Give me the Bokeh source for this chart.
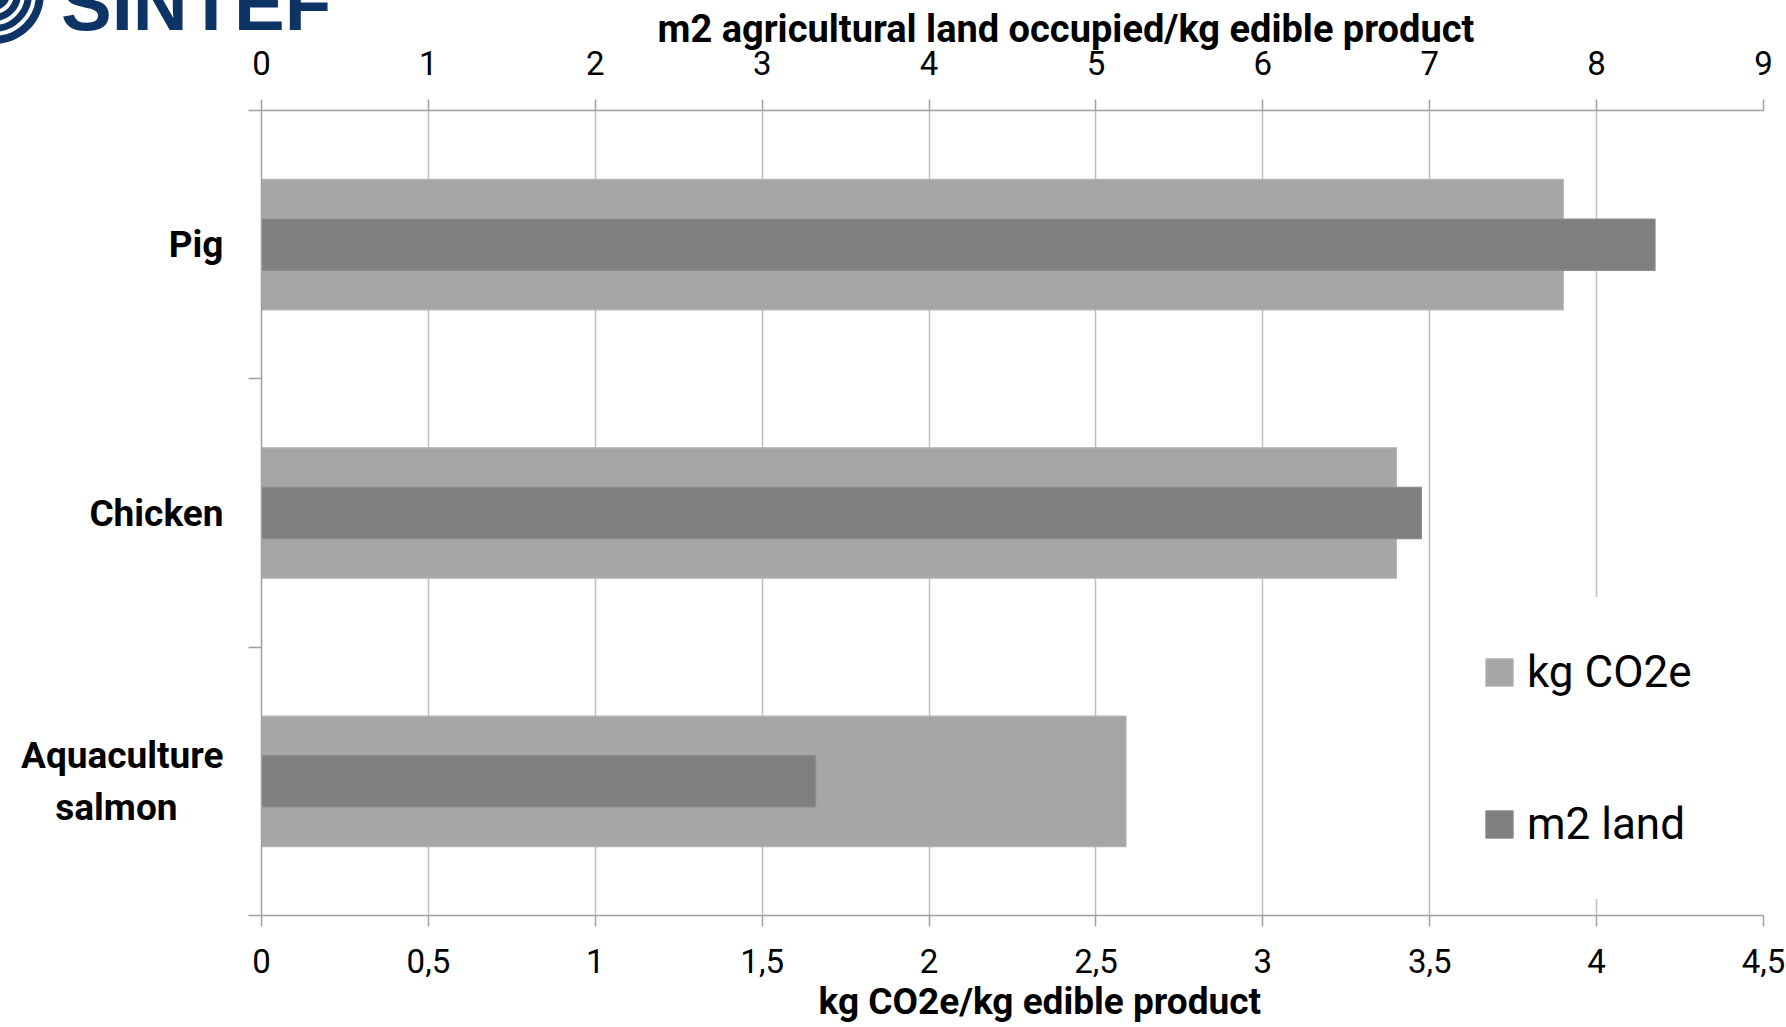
from bokeh.plotting import figure
from bokeh.models import (Range1d, LinearAxis, FixedTicker, Legend, LegendItem,
                          ColumnDataSource, Title, Div)
from bokeh.layouts import column
from bokeh.embed import file_html
from bokeh.resources import INLINE

# ---- data ----
categories = ["Pig", "Chicken", "Aquaculture salmon"]
category_labels = ["Pig", "Chicken", "Aquaculture\nsalmon\u00a0\u00a0\u00a0\u00a0\u00a0"]
co2_values = [3.90, 3.40, 2.59]          # kg CO2e / kg edible product (bottom axis)
land_values = [8.35, 6.95, 3.32]         # m2 land / kg edible product (top axis)
co2_ticks = [0, 0.5, 1, 1.5, 2, 2.5, 3, 3.5, 4, 4.5]
co2_tick_labels = ["0", "0,5", "1", "1,5", "2", "2,5", "3", "3,5", "4", "4,5"]
land_ticks = [0, 1, 2, 3, 4, 5, 6, 7, 8, 9]
land_tick_labels = ["0", "1", "2", "3", "4", "5", "6", "7", "8", "9"]
series_names = ["kg CO2e", "m2 land"]
bottom_title = "kg CO2e/kg edible product"
top_title = "m2 agricultural land occupied/kg edible product"
logo_text = "SINTEF"

# ---- styles ----
FONT = "Roboto"
C_CO2 = "#A6A6A6"
C_LAND = "#7F7F7F"
GRID = "#BFBFBF"
AXIS = "#A0A0A0"
LOGO = "#0E3466"

n = len(categories)
ypos = [n - i - 0.5 for i in range(n)]
src = ColumnDataSource(dict(y=ypos, cat=categories, co2=co2_values, land=land_values))

p = figure(width=1786, height=1027, output_backend="svg", toolbar_location=None,
           x_range=Range1d(co2_ticks[0], co2_ticks[-1]), y_range=Range1d(0, n),
           min_border_left=261, min_border_right=23, min_border_top=110,
           min_border_bottom=110, margin=(0, 0, 0, 0))
p.title = None
p.extra_x_ranges = {"land": Range1d(land_ticks[0], land_ticks[-1])}
p.outline_line_color = None
p.background_fill_color = "white"
p.border_fill_color = "white"

r1 = p.hbar(y="y", left=0, right="co2", height=0.486, source=src,
            fill_color=C_CO2, line_color="#B3B3B3", line_width=1.2)
r2 = p.hbar(y="y", left=0, right="land", height=0.191, source=src,
            x_range_name="land", fill_color=C_LAND, line_color="#8C8C8C", line_width=1.2)

def key(t):
    return int(t) if float(t).is_integer() else t

# bottom axis
xa = p.xaxis[0]
xa.ticker = FixedTicker(ticks=co2_ticks)
xa.major_label_overrides = {key(t): l for t, l in zip(co2_ticks, co2_tick_labels)}

# top axis
ta = LinearAxis(x_range_name="land", ticker=FixedTicker(ticks=land_ticks))
ta.major_label_overrides = {key(t): l for t, l in zip(land_ticks, land_tick_labels)}
p.add_layout(ta, "above")

for ax in (xa, ta):
    ax.axis_line_color = AXIS
    ax.axis_line_width = 1.5
    ax.major_tick_line_color = AXIS
    ax.major_tick_line_width = 1.5
    ax.major_tick_in = 0
    ax.major_tick_out = 11
    ax.minor_tick_line_color = None
    ax.major_label_text_font = FONT
    ax.major_label_text_font_size = "33px"
    ax.major_label_text_color = "black"
xa.major_label_standoff = 22
ta.major_label_standoff = 25

# axis titles as side titles (left aligned with an offset, as in the reference)
t_bottom = Title(text=bottom_title, align="left", offset=557, vertical_align="middle",
                 standoff=7, text_font=FONT, text_font_style="bold",
                 text_font_size="37px", text_color="black")
p.add_layout(t_bottom, "below")
t_top = Title(text=top_title, align="left", offset=396, vertical_align="middle",
              standoff=-8, text_font=FONT, text_font_style="bold",
              text_font_size="38px", text_color="black")
p.add_layout(t_top, "above")

# left (category) axis: labels at band centres, ticks at band boundaries
ya = p.yaxis[0]
ya.ticker = FixedTicker(ticks=ypos, minor_ticks=list(range(n + 1)))
ya.major_label_overrides = {y: l for y, l in zip(ypos, category_labels)}
ya.axis_line_color = AXIS
ya.axis_line_width = 1.5
ya.major_tick_line_color = None
ya.major_tick_out = 0
ya.major_tick_in = 0
ya.minor_tick_line_color = AXIS
ya.minor_tick_line_width = 1.5
ya.minor_tick_out = 13
ya.minor_tick_in = 0
ya.major_label_standoff = 25
ya.major_label_text_font = FONT
ya.major_label_text_font_style = "bold"
ya.major_label_text_font_size = "37px"
ya.major_label_text_color = "black"

p.xgrid.ticker = FixedTicker(ticks=co2_ticks)
p.xgrid.grid_line_color = GRID
p.xgrid.grid_line_width = 1.5
p.ygrid.visible = False

legend = Legend(items=[LegendItem(label=series_names[0], renderers=[r1]),
                       LegendItem(label=series_names[1], renderers=[r2])],
                location=(1175, 16))
legend.glyph_width = 34
legend.glyph_height = 34
legend.label_height = 58
legend.spacing = 94
legend.padding = 45
legend.margin = 0
legend.label_standoff = 11
legend.border_line_color = "white"
legend.border_line_alpha = 1.0
legend.background_fill_color = "white"
legend.background_fill_alpha = 1.0
legend.label_text_font = FONT
legend.label_text_font_size = "44px"
legend.label_text_color = "black"
p.add_layout(legend)

# partially cut-off logo at the very top-left corner of the page
logo_html = (
    '<div style="position:fixed;left:0;top:0;width:420px;height:48px;overflow:hidden;z-index:10;">'
    '<svg width="60" height="48" style="position:absolute;left:0;top:0">'
    f'<circle cx="-6" cy="-6" r="50" fill="{LOGO}"/>'
    '<circle cx="-6" cy="-6" r="40" fill="none" stroke="white" stroke-width="4"/>'
    '<circle cx="-6" cy="-6" r="29" fill="none" stroke="white" stroke-width="4"/>'
    '<circle cx="-6" cy="-6" r="18" fill="none" stroke="white" stroke-width="4"/>'
    '</svg>'
    f'<span style="position:absolute;left:61px;top:-34px;font-family:\'Liberation Sans\';'
    f'font-weight:bold;font-size:76px;line-height:75px;color:{LOGO};white-space:nowrap;">'
    f'{logo_text}</span></div>'
)
logo = Div(text=logo_html, width=1786, height=0, margin=(0, 0, 0, 0),
           styles={"overflow": "visible"})

layout = column(p, logo, spacing=0)
open("out.html", "w").write(file_html(layout, INLINE))
